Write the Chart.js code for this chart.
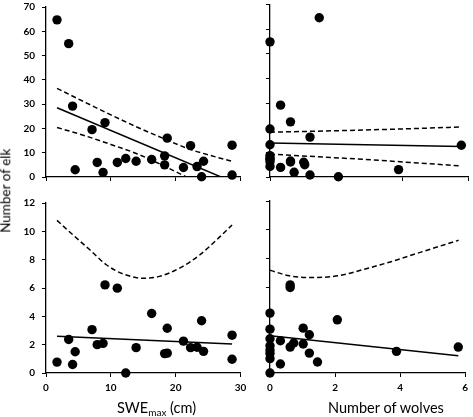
<!DOCTYPE html>
<html>
<head>
<meta charset="utf-8">
<script src="https://cdn.jsdelivr.net/npm/chart.js@4.4.1/dist/chart.umd.min.js"></script>
<style>
  body { margin: 0; background: #fff; }
  #wrap { position: relative; width: 473px; height: 417px; overflow: hidden; font-family: Lato, sans-serif; color: #000; }
  canvas { position: absolute; }
  .title { position: absolute; font-size: 14.5px; line-height: 1; white-space: nowrap; }
  .title sub { font-size: 10px; vertical-align: -3px; line-height: 0; }
  #elk { left: -54.35px; top: 184.25px; width: 120px; height: 13.5px; font-size: 13.5px; text-align: center; transform: rotate(-90deg); }
</style>
</head>
<body>
<div id="wrap">
  <canvas id="tl" width="252" height="196" style="left:0;top:-6px"></canvas>
  <canvas id="tr" width="213" height="190" style="left:260px;top:0"></canvas>
  <canvas id="bl" width="252" height="227" style="left:0;top:190px"></canvas>
  <canvas id="br" width="213" height="227" style="left:260px;top:190px"></canvas>
  <div class="title" id="elk">Number of elk</div>
  <div class="title" style="left:117px;top:400.8px">SWE<sub>max</sub> (cm)</div>
  <div class="title" style="left:328px;top:400.8px">Number of wolves</div>
</div>
<script>
// top left: elk vs SWEmax
const tlSwe = [1.7, 3.5, 4.1, 4.5, 7.1, 7.9, 9.1, 8.8, 11.0, 12.3, 13.9, 16.3, 18.7, 18.3, 18.3, 21.2, 22.3, 23.3, 24.3, 24.0, 28.7, 28.7];
const tlElk = [64.7, 54.9, 29.2, 3.0, 19.5, 6.0, 22.4, 1.9, 6.0, 7.6, 6.5, 7.2, 16.0, 8.7, 5.0, 3.9, 12.9, 4.3, 6.5, 0.1, 13.1, 0.8];
const tlFitX = [1.7, 28.7];
const tlFitY = [28.5, -1.9];
const tlBandX = [1.7, 6, 10, 14, 18, 22, 26, 28.7];
const tlUpper = [36.5, 30.8, 25.6, 20.6, 16.0, 11.6, 8.4, 6.5];
const tlLower = [20.4, 17.0, 13.4, 9.6, 4.8, -0.5, -6.0, -10.0];

// top right: elk vs wolves
const trWolves = [1.49, 0, 0.32, 0.62, 0, 1.21, 0, 5.79, 0, 0, 0, 0, 0, 0.32, 0.62, 0.62, 1.02, 1.05, 0.73, 1.21, 2.07, 3.89];
const trElk = [64.7, 54.9, 29.2, 22.4, 19.5, 16.2, 13.1, 12.9, 8.7, 7.6, 7.2, 6.2, 4.3, 3.9, 6.1, 6.5, 6.0, 5.0, 1.9, 0.8, 0.1, 3.0];
const trFitX = [0, 5.79];
const trFitY = [13.8, 12.4];
const trBandX = [0, 2.9, 5.79];
const trUpper = [18.2, 19.1, 20.3];
const trLower = [9.3, 7.1, 4.5];

// bottom left: second response vs SWEmax
const blSwe = [1.7, 3.5, 4.1, 4.5, 7.1, 7.9, 8.8, 9.1, 11.0, 12.3, 13.9, 16.3, 18.7, 18.3, 18.7, 21.2, 22.3, 23.3, 24.0, 24.3, 28.7, 28.7];
const blVal = [0.77, 2.37, 0.6, 1.5, 3.06, 2.0, 2.09, 6.22, 5.99, 0, 1.79, 4.2, 3.16, 1.37, 1.4, 2.25, 1.79, 1.82, 3.69, 1.53, 2.67, 0.97];
const blFitX = [1.7, 28.7];
const blFitY = [2.6, 2.04];
const blBandX = [1.7, 4.2, 6.8, 9.3, 11.9, 15.0, 17.5, 20.6, 23.7, 26.8, 28.7];
const blUpper = [10.77, 9.73, 8.68, 7.64, 6.99, 6.69, 6.82, 7.40, 8.33, 9.61, 10.45];

// bottom right: second response vs wolves
const brWolves = [0, 0, 0, 0, 0, 0, 0, 0, 0.32, 0.32, 0.62, 0.62, 0.62, 0.73, 1.02, 1.02, 1.21, 1.21, 1.46, 2.07, 3.89, 5.79];
const brVal = [4.18, 3.06, 2.39, 1.9, 1.6, 1.37, 1.0, 0, 2.25, 0.63, 6.15, 5.97, 1.81, 2.09, 3.13, 2.02, 2.67, 1.39, 0.77, 3.71, 1.51, 1.81];
const brFitX = [0, 5.79];
const brFitY = [2.6, 1.2];
const brBandX = [0, 0.6, 1.3, 2.1, 2.9, 3.7, 4.5, 5.8];
const brUpper = [7.17, 6.78, 6.66, 6.78, 7.24, 7.75, 8.33, 9.26];

function pts(xs, ys) {
  return xs.map((x, i) => ({ x: x, y: ys[i] }));
}

function dots(xs, ys) {
  return { data: pts(xs, ys), showLine: false, pointRadius: 4.7, pointHoverRadius: 4.7,
    pointBackgroundColor: '#000', pointBorderWidth: 0, clip: false };
}

function line(xs, ys, dashed) {
  return { data: pts(xs, ys), showLine: true, pointRadius: 0, pointHoverRadius: 0,
    borderColor: '#000', borderWidth: 1.5, borderDash: dashed ? [5, 3] : [],
    cubicInterpolationMode: 'monotone', fill: false };
}

const tickFontY = { family: 'Lato', size: 10, weight: 'bold' };
const tickFontX = { family: 'Lato', size: 10, weight: 'bold', lineHeight: 1.2 };

function panel(id, cfg) {
  const ctx = document.getElementById(id).getContext('2d');
  return new Chart(ctx, {
    type: 'scatter',
    data: { datasets: cfg.datasets },
    options: {
      responsive: false,
      devicePixelRatio: 1,
      animation: false,
      events: [],
      layout: { padding: { left: 0, top: cfg.padTop, right: cfg.padRight, bottom: 0 } },
      plugins: { legend: { display: false }, tooltip: { enabled: false } },
      scales: {
        x: {
          type: 'linear', min: 0, max: cfg.xMax,
          ticks: { display: cfg.showX, stepSize: cfg.xStep, color: '#000', padding: 5, font: tickFontX },
          grid: { drawOnChartArea: false, drawTicks: true, tickLength: 4, color: '#000', lineWidth: 1 },
          border: { display: true, color: '#000', width: 1.3 },
          afterFit: s => { s.height = cfg.xHeight; }
        },
        y: {
          type: 'linear', min: 0, max: cfg.yMax,
          ticks: { display: cfg.showY, stepSize: cfg.yStep, color: '#000', padding: 7, font: tickFontY },
          grid: { drawOnChartArea: false, drawTicks: true, tickLength: 4, color: '#000', lineWidth: 1 },
          border: { display: true, color: '#000', width: 1.3 },
          afterFit: s => { s.width = cfg.yWidth; }
        }
      }
    }
  });
}

panel('tl', {
  datasets: [dots(tlSwe, tlElk), line(tlFitX, tlFitY, false), line(tlBandX, tlUpper, true), line(tlBandX, tlLower, true)],
  xMax: 30, xStep: 10, yMax: 70, yStep: 10, showX: false, showY: true,
  yWidth: 46, xHeight: 13, padTop: 0, padRight: 11.5
});

panel('tr', {
  datasets: [dots(trWolves, trElk), line(trFitX, trFitY, false), line(trBandX, trUpper, true), line(trBandX, trLower, true)],
  xMax: 6, xStep: 2, yMax: 70, yStep: 10, showX: false, showY: false,
  yWidth: 10, xHeight: 13, padTop: 4.7, padRight: 3.5
});

panel('bl', {
  datasets: [dots(blSwe, blVal), line(blFitX, blFitY, false), line(blBandX, blUpper, true)],
  xMax: 30, xStep: 10, yMax: 12, yStep: 2, showX: true, showY: true,
  yWidth: 46, xHeight: 44, padTop: 0, padRight: 11.5
});

panel('br', {
  datasets: [dots(brWolves, brVal), line(brFitX, brFitY, false), line(brBandX, brUpper, true)],
  xMax: 6, xStep: 2, yMax: 12, yStep: 2, showX: true, showY: false,
  yWidth: 10, xHeight: 44, padTop: 11, padRight: 3.5
});
</script>
</body>
</html>
